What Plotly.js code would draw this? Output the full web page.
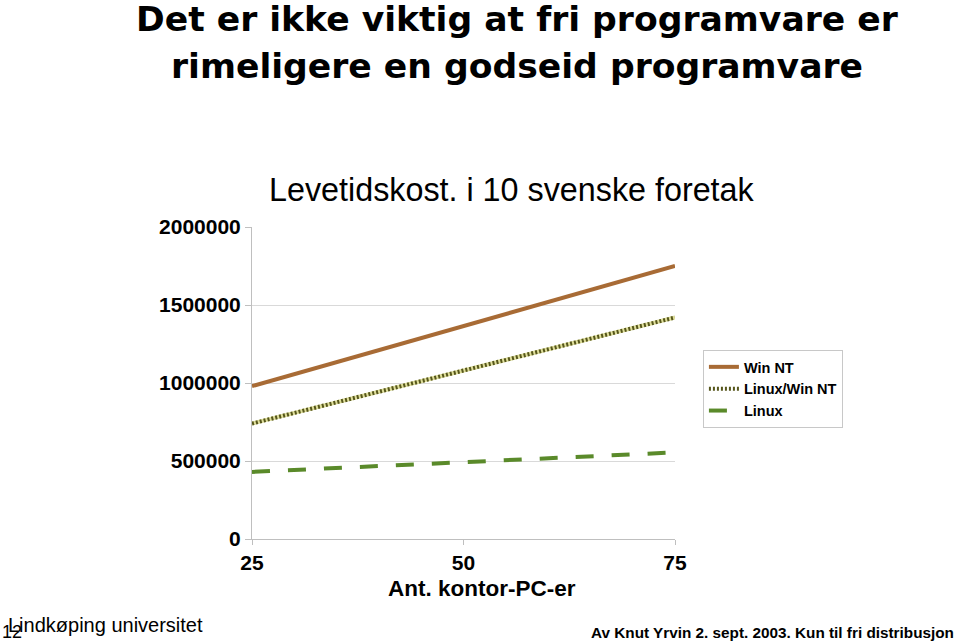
<!DOCTYPE html>
<html>
<head>
<meta charset="utf-8">
<script src="https://cdn.plot.ly/plotly-3.0.1.min.js"></script>
<style>html,body{margin:0;padding:0;background:#fff;}#chart{width:959px;height:642px;}</style>
</head>
<body>
<div id="chart"></div>
<script>
var pcCount = [25, 50, 75];
var winNT = [980000, 1365000, 1750000];
var linuxWinNT = [740000, 1080000, 1420000];
var linux = [430000, 492000, 555000];
var seriesNames = ['Win NT', 'Linux/Win NT', 'Linux'];
var yTicks = [0, 500000, 1000000, 1500000, 2000000];
var xTicks = [25, 50, 75];

var SANS = '"Liberation Sans", Arial, sans-serif';
var HEAVY = '"DejaVu Sans", "Liberation Sans", Arial, sans-serif';

var traces = [
  {x: pcCount, y: winNT, name: seriesNames[0], mode: 'lines', type: 'scatter',
   line: {color: '#a86b35', width: 4}},
  {x: pcCount, y: linuxWinNT, name: seriesNames[1], mode: 'lines', type: 'scatter',
   line: {color: '#dede9a', width: 4}, showlegend: false, hoverinfo: 'skip', legendgroup: 'lw'},
  {x: pcCount, y: linuxWinNT, name: seriesNames[1], mode: 'lines', type: 'scatter',
   line: {color: '#56561c', width: 4, dash: '2px,2px'}, legendgroup: 'lw'},
  {x: pcCount, y: linux, name: seriesNames[2], mode: 'lines', type: 'scatter',
   line: {color: '#5a8a2a', width: 4, dash: '18px,18px'}}
];

var layout = {
  width: 959, height: 642,
  margin: {l: 252, r: 284, t: 227, b: 103},
  paper_bgcolor: '#ffffff', plot_bgcolor: '#ffffff',
  font: {family: SANS, color: '#000'},
  xaxis: {
    range: [25, 75], tickvals: xTicks, ticktext: xTicks.map(String),
    showgrid: false, zeroline: false, showline: true, linecolor: '#bfbfbf', linewidth: 1,
    ticks: 'outside', ticklen: 5, tickcolor: '#bfbfbf',
    tickfont: {family: SANS, size: 21, weight: 'bold', color: '#000'},
    fixedrange: true
  },
  yaxis: {
    range: [0, 2000000], tickvals: yTicks, tickformat: 'd',
    showgrid: true, gridcolor: '#d9d9d9', gridwidth: 1, zeroline: false,
    showline: true, linecolor: '#bfbfbf', linewidth: 1,
    ticks: 'outside', ticklen: 6, tickcolor: '#bfbfbf',
    tickfont: {family: SANS, size: 21, weight: 'bold', color: '#000'},
    fixedrange: true
  },
  legend: {
    x: 1.066, y: 0.606, xanchor: 'left', yanchor: 'top',
    bgcolor: '#ffffff', bordercolor: '#c8c8c8', borderwidth: 1,
    font: {family: SANS, size: 14.5, weight: 'bold', color: '#000'},
    tracegroupgap: 0, itemwidth: 30
  },
  annotations: [
    {text: 'Det er ikke viktig at fri programvare er', xref: 'paper', yref: 'paper',
     x: 0.6265, y: 1.667, xanchor: 'center', yanchor: 'middle', showarrow: false,
     font: {family: HEAVY, size: 34.6, weight: 'bold', color: '#000'}},
    {text: 'rimeligere en godseid programvare', xref: 'paper', yref: 'paper',
     x: 0.6265, y: 1.515, xanchor: 'center', yanchor: 'middle', showarrow: false,
     font: {family: HEAVY, size: 34.6, weight: 'bold', color: '#000'}},
    {text: 'Levetidskost. i 10 svenske foretak', xref: 'paper', yref: 'paper',
     x: 0.615, y: 1.12, xanchor: 'center', yanchor: 'middle', showarrow: false,
     font: {family: SANS, size: 32.3, color: '#000'}},
    {text: 'Ant. kontor-PC-er', xref: 'paper', yref: 'paper',
     x: 0.544, y: -0.160, xanchor: 'center', yanchor: 'middle', showarrow: false,
     font: {family: SANS, size: 22.5, weight: 'bold', color: '#000'}},
    {text: 'Lindkøping universitet', xref: 'paper', yref: 'paper',
     x: -0.581, y: -0.275, xanchor: 'left', yanchor: 'middle', showarrow: false,
     font: {family: SANS, size: 20, color: '#000'}},
    {text: '12', xref: 'paper', yref: 'paper',
     x: -0.596, y: -0.299, xanchor: 'left', yanchor: 'middle', showarrow: false,
     font: {family: SANS, size: 18, color: '#000'}},
    {text: 'Av Knut Yrvin 2. sept. 2003. Kun til fri distribusjon', xref: 'paper', yref: 'paper',
     x: 1.665, y: -0.301, xanchor: 'right', yanchor: 'middle', showarrow: false,
     font: {family: SANS, size: 15.3, weight: 'bold', color: '#000'}}
  ],
  showlegend: true
};

Plotly.newPlot('chart', traces, layout, {displayModeBar: false, staticPlot: true});
</script>
</body>
</html>
